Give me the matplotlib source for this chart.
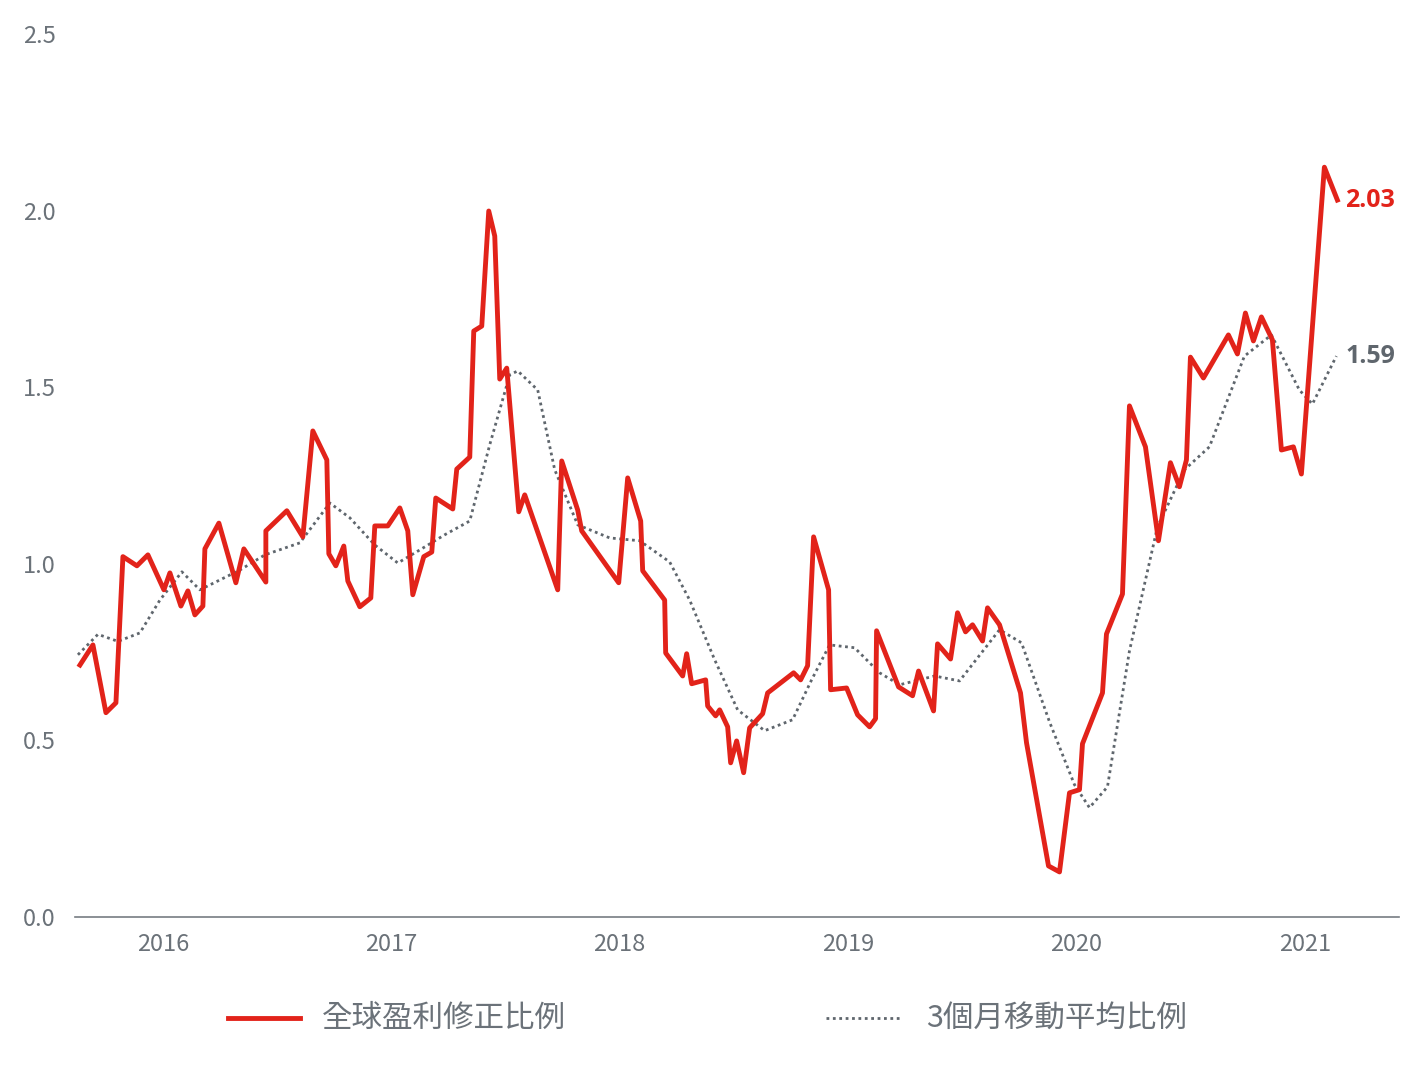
import matplotlib
matplotlib.use("Agg")
import matplotlib.pyplot as plt
from matplotlib.lines import Line2D
import numpy as np

plt.rcParams['font.family'] = ['Noto Sans CJK TC', 'DejaVu Sans']

# x positions in decimal years
red_x_px = [80,93,106,116,123,137,148,164,170,181,188,195,203,205,219,236,244,266,266,287,303,313,327,329,336,344,348,360,371,375,388,400,408,413,424,432,436,453,457,470,474,482,489,495,500,507,519,525,558,562,578,582,619,628,641,643,665,666,683,687,692,706,708,716,720,728,731,737,744,750,763,768,794,801,808,814,829,831,847,858,870,876,877,899,913,919,934,938,951,958,966,973,983,988,1000,1021,1027,1049,1060,1070,1080,1083,1103,1107,1123,1130,1146,1159,1171,1180,1187,1191,1204,1229,1238,1246,1254,1262,1273,1282,1294,1302,1325,1338]
red_vals = [0.713,0.77,0.578,0.606,1.02,0.994,1.025,0.926,0.974,0.88,0.923,0.855,0.88,1.042,1.115,0.946,1.042,0.948,1.093,1.15,1.076,1.376,1.294,1.028,0.994,1.05,0.951,0.878,0.903,1.107,1.107,1.158,1.093,0.912,1.02,1.033,1.186,1.155,1.268,1.302,1.659,1.673,1.999,1.928,1.523,1.554,1.147,1.195,0.926,1.291,1.152,1.093,0.946,1.243,1.121,0.98,0.897,0.747,0.682,0.745,0.66,0.671,0.597,0.569,0.586,0.538,0.436,0.498,0.408,0.535,0.575,0.634,0.691,0.671,0.711,1.076,0.926,0.643,0.648,0.572,0.538,0.561,0.81,0.651,0.626,0.696,0.583,0.773,0.73,0.861,0.807,0.827,0.781,0.875,0.827,0.634,0.493,0.144,0.127,0.351,0.36,0.49,0.634,0.801,0.914,1.447,1.331,1.065,1.286,1.218,1.294,1.585,1.526,1.648,1.594,1.71,1.631,1.699,1.634,1.322,1.331,1.254,2.123,2.03]
gray_x_px = [78,98,118,140,160,182,200,220,240,265,300,330,350,375,398,420,445,470,490,510,518,538,555,578,610,640,670,690,715,738,765,793,812,830,855,880,900,935,960,1000,1022,1050,1075,1090,1108,1130,1158,1185,1210,1245,1272,1300,1313,1337]
gray_vals = [0.742,0.8,0.78,0.804,0.897,0.977,0.926,0.954,0.982,1.025,1.059,1.172,1.13,1.053,1.002,1.039,1.082,1.121,1.337,1.535,1.546,1.492,1.266,1.11,1.073,1.065,1.005,0.897,0.728,0.586,0.527,0.558,0.671,0.77,0.762,0.691,0.657,0.682,0.668,0.813,0.776,0.552,0.374,0.309,0.368,0.753,1.104,1.266,1.331,1.588,1.648,1.492,1.452,1.588]
red_x = [2016 + (p - 163) / 228.5 for p in red_x_px]
gray_x = [2016 + (p - 163) / 228.5 for p in gray_x_px]
years = [2016, 2017, 2018, 2019, 2020, 2021]
yticks = [0.0, 0.5, 1.0, 1.5, 2.0, 2.5]
labels = ['全球盈利修正比例', '3個月移動平均比例']

RED = '#e2231a'
GRAY = '#5f666d'
TXT = '#6b7279'

fig = plt.figure(figsize=(14.28, 10.66), dpi=100)
ax = fig.add_axes([0.0525, 0.14, 0.9275, 0.828])
ax.plot(gray_x, gray_vals, color=GRAY, lw=2, ls=(0, (1, 1.3)))
ax.plot(red_x, red_vals, color=RED, lw=3.5)
ax.set_xlim(2015.615, 2021.414)
ax.set_ylim(0, 2.5)
ax.set_xticks(years)
ax.set_xticklabels([str(y) for y in years])
ax.set_yticks(yticks)
ax.set_yticklabels([f'{v:.1f}' for v in yticks])
for s in ['top', 'right', 'left']:
    ax.spines[s].set_visible(False)
ax.spines['bottom'].set_color('#777d83')
ax.spines['bottom'].set_linewidth(1.2)
ax.tick_params(axis='both', length=0, labelsize=17, colors=TXT)
ax.tick_params(axis='x', pad=12)
ax.tick_params(axis='y', pad=14)
ax.text(red_x[-1] + 0.035, red_vals[-1], f'{red_vals[-1]:.2f}', color=RED, fontsize=18,
        fontweight='bold', va='center', ha='left', family=['Open Sans', 'DejaVu Sans'])
ax.text(gray_x[-1] + 0.04, gray_vals[-1], f'{gray_vals[-1]:.2f}', color=GRAY, fontsize=18,
        fontweight='bold', va='center', ha='left', family=['Open Sans', 'DejaVu Sans'])

ly = 1 - 1018 / 1066
fig.add_artist(Line2D([228/1428, 300/1428], [ly, ly], color=RED, lw=3.5))
fig.text(322/1428, ly, labels[0], fontsize=22, color=TXT, va='center')
fig.add_artist(Line2D([826/1428, 900/1428], [ly, ly], color=GRAY, lw=2, ls=(0, (1, 1.3))))
fig.text(926/1428, ly, labels[1], fontsize=22, color=TXT, va='center')

fig.savefig('out.png', dpi=100)
